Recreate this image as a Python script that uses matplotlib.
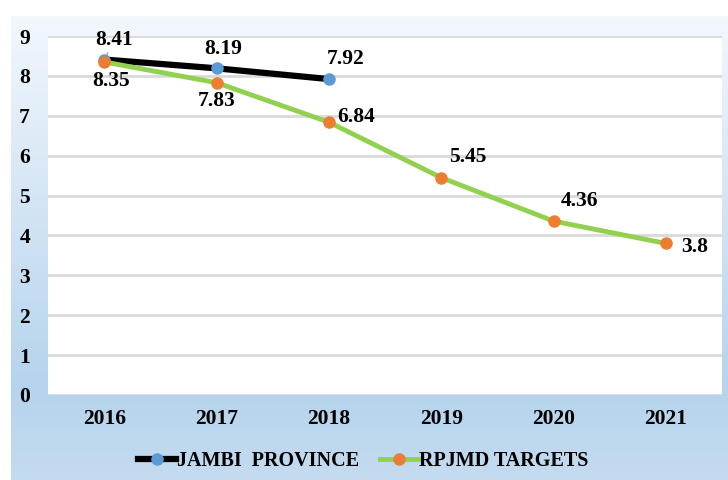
import numpy as np
import matplotlib.pyplot as plt
from matplotlib.lines import Line2D

years = ["2016", "2017", "2018", "2019", "2020", "2021"]
jambi = [8.41, 8.19, 7.92]
targets = [8.35, 7.83, 6.84, 5.45, 4.36, 3.8]

plt.rcParams['font.family'] = ['Liberation Serif', 'DejaVu Serif']
plt.rcParams['font.weight'] = 'bold'

fig = plt.figure(figsize=(7.28, 4.80), dpi=100)

# gradient background of the chart area
bg = fig.add_axes([11 / 728, 0, 1 - 11 / 728, 1 - 16 / 480], zorder=0)
grad = np.linspace(0, 1, 256)
top = np.array([0.95, 0.97, 0.99])
mid = np.array([0.71, 0.83, 0.93])
bot = np.array([0.77, 0.86, 0.94])
t = grad[:, None]
cols = np.where(t < 0.8, top + (mid - top) * (t / 0.8), mid + (bot - mid) * ((t - 0.8) / 0.2))
bg.imshow(cols[:, None, :], aspect='auto', extent=[0, 1, 1, 0])
bg.axis('off')

ax = fig.add_axes([48 / 728, 1 - 395 / 480, (722 - 48) / 728, (395 - 36) / 480], zorder=1)
ax.set_facecolor('white')
x = np.arange(len(years))

ax.plot(x[:len(jambi)], jambi, color='black', lw=4.5, marker='o', ms=8,
        mfc='#5b9bd5', mec='#5b9bd5', zorder=3)
ax.plot(x, targets, color='#92d050', lw=3.5, marker='o', ms=8,
        mfc='#ed7d31', mec='#ed7d31', zorder=4)

ax.set_xlim(-0.5, 5.5)
ax.set_ylim(0, 9)
ax.set_yticks(range(10))
ax.set_xticks(x)
ax.set_xticklabels(years)
ax.tick_params(length=0, labelsize=15.5)
ax.tick_params(axis='y', pad=13)
ax.tick_params(axis='x', pad=10)
ax.grid(axis='y', color='#d9d9d9', lw=2)
ax.set_axisbelow(True)
for s in ax.spines.values():
    s.set_visible(False)

fs = 15.5
kw = dict(textcoords='offset points', va='baseline', fontsize=fs, zorder=5)
# JAMBI labels
ax.annotate("8.41", (0, jambi[0]), xytext=(7.5, 10.5), ha='center',
            arrowprops=dict(arrowstyle='-', color='#a6a6a6', lw=1, shrinkA=0, shrinkB=4), **kw)
ax.annotate("8.19", (1, jambi[1]), xytext=(5, 10), ha='center', **kw)
ax.annotate("7.92", (2, jambi[2]), xytext=(12, 11), ha='center', **kw)
# target labels
ax.annotate("8.35", (0, targets[0]), xytext=(5, -17), ha='center', **kw)
ax.annotate("7.83", (1, targets[1]), xytext=(0, -17), ha='center', **kw)
ax.annotate("6.84", (2, targets[2]), xytext=(6, 0), ha='left', **kw)
ax.annotate("5.45", (3, targets[3]), xytext=(19, 11.5), ha='center', **kw)
ax.annotate("4.36", (4, targets[4]), xytext=(19, 11), ha='center', **kw)
ax.annotate("3.8", (5, targets[5]), xytext=(11, -6), ha='left', **kw)

handles = [
    Line2D([], [], color='black', lw=4.5, marker='o', ms=8, mfc='#5b9bd5', mec='#5b9bd5'),
    Line2D([], [], color='#92d050', lw=3.5, marker='o', ms=8, mfc='#ed7d31', mec='#ed7d31'),
]
fig.legend(handles, ["JAMBI  PROVINCE", "RPJMD TARGETS"], loc='center',
           bbox_to_anchor=(0.499, 1 - 461 / 480), ncol=2, frameon=False,
           fontsize=14.5, handlelength=1.9, handletextpad=0.05, columnspacing=1.0)

fig.savefig("out.png", dpi=100)
